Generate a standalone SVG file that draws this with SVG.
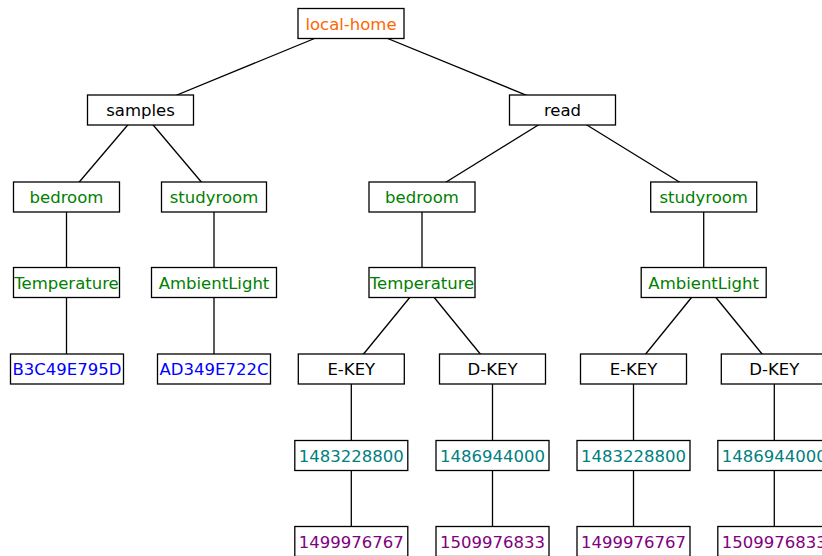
<svg xmlns="http://www.w3.org/2000/svg" width="822" height="556" viewBox="0 0 822 556">
  <style>
    .edge { stroke: #000; stroke-width: 1.3; fill: none; }
    .box { fill: #fff; stroke: #000; stroke-width: 1.3; }
    text { font-family: "DejaVu Sans", Verdana, sans-serif; font-size: 16.5px; text-anchor: middle; }
    .k { fill: #000; }
    .root { fill: #ff6600; }
    .g { fill: #008000; }
    .b { fill: #0000ff; }
    .t { fill: #008080; }
    .p { fill: #800080; }
  </style>
  <rect width="822" height="556" fill="#fff"/>

  <!-- connectors: center to center, boxes drawn on top -->
  <g id="edges">
    <line class="edge" x1="351" y1="23.5" x2="140.5" y2="110"/>
    <line class="edge" x1="351" y1="23.5" x2="562.5" y2="110"/>
    <line class="edge" x1="140.5" y1="110" x2="66.5" y2="197"/>
    <line class="edge" x1="140.5" y1="110" x2="214" y2="197"/>
    <line class="edge" x1="66.5" y1="197" x2="66.5" y2="369"/>
    <line class="edge" x1="214" y1="197" x2="214" y2="369"/>
    <line class="edge" x1="562.5" y1="110" x2="422" y2="197"/>
    <line class="edge" x1="562.5" y1="110" x2="703.7" y2="197"/>
    <line class="edge" x1="422" y1="197" x2="422" y2="282.5"/>
    <line class="edge" x1="703.7" y1="197" x2="703.7" y2="282.5"/>
    <line class="edge" x1="422" y1="282.5" x2="351.3" y2="369"/>
    <line class="edge" x1="422" y1="282.5" x2="492.5" y2="369"/>
    <line class="edge" x1="703.7" y1="282.5" x2="633.5" y2="369"/>
    <line class="edge" x1="703.7" y1="282.5" x2="774.3" y2="369"/>
    <line class="edge" x1="351.3" y1="369" x2="351.3" y2="556"/>
    <line class="edge" x1="492.5" y1="369" x2="492.5" y2="556"/>
    <line class="edge" x1="633.5" y1="369" x2="633.5" y2="556"/>
    <line class="edge" x1="774.3" y1="369" x2="774.3" y2="556"/>
  </g>

  <g id="local-home"><rect class="box" x="298" y="8.5" width="106" height="30"/><text class="root" x="351" y="29.5">local-home</text></g>

  <g id="samples"><rect class="box" x="87.5" y="95" width="106" height="30"/><text class="k" x="140.5" y="116">samples</text></g>
  <g id="read"><rect class="box" x="509.5" y="95" width="106" height="30"/><text class="k" x="562.5" y="116">read</text></g>

  <g id="samples-bedroom"><rect class="box" x="13.5" y="182" width="106" height="30"/><text class="g" x="66.5" y="203">bedroom</text></g>
  <g id="samples-studyroom"><rect class="box" x="161.5" y="182" width="105" height="30"/><text class="g" x="214" y="203">studyroom</text></g>
  <g id="samples-temperature"><rect class="box" x="13.5" y="267.5" width="106" height="30"/><text class="g" x="66.5" y="288.5">Temperature</text></g>
  <g id="samples-ambientlight"><rect class="box" x="151.5" y="267.5" width="125" height="30"/><text class="g" x="214" y="288.5">AmbientLight</text></g>
  <g id="samples-b3c49e795d"><rect class="box" x="10.5" y="354" width="113" height="30"/><text class="b" x="67" y="375">B3C49E795D</text></g>
  <g id="samples-ad349e722c"><rect class="box" x="157.5" y="354" width="113" height="30"/><text class="b" x="214" y="375">AD349E722C</text></g>

  <g id="read-bedroom"><rect class="box" x="369" y="182" width="106" height="30"/><text class="g" x="422" y="203">bedroom</text></g>
  <g id="read-studyroom"><rect class="box" x="650.7" y="182" width="106" height="30"/><text class="g" x="703.7" y="203">studyroom</text></g>
  <g id="read-temperature"><rect class="box" x="369" y="267.5" width="106" height="30"/><text class="g" x="422" y="288.5">Temperature</text></g>
  <g id="read-ambientlight"><rect class="box" x="641.2" y="267.5" width="125" height="30"/><text class="g" x="703.7" y="288.5">AmbientLight</text></g>

  <g id="temp-ekey"><rect class="box" x="298.3" y="354" width="106" height="30"/><text class="k" x="351.3" y="375">E-KEY</text></g>
  <g id="temp-dkey"><rect class="box" x="439.5" y="354" width="106" height="30"/><text class="k" x="492.5" y="375">D-KEY</text></g>
  <g id="light-ekey"><rect class="box" x="580.5" y="354" width="106" height="30"/><text class="k" x="633.5" y="375">E-KEY</text></g>
  <g id="light-dkey"><rect class="box" x="721.3" y="354" width="106" height="30"/><text class="k" x="774.3" y="375">D-KEY</text></g>

  <g id="temp-ekey-start"><rect class="box" x="294.8" y="440.5" width="113" height="30"/><text class="t" x="351.3" y="461.5">1483228800</text></g>
  <g id="temp-dkey-start"><rect class="box" x="436" y="440.5" width="113" height="30"/><text class="t" x="492.5" y="461.5">1486944000</text></g>
  <g id="light-ekey-start"><rect class="box" x="577" y="440.5" width="113" height="30"/><text class="t" x="633.5" y="461.5">1483228800</text></g>
  <g id="light-dkey-start"><rect class="box" x="717.8" y="440.5" width="113" height="30"/><text class="t" x="774.3" y="461.5">1486944000</text></g>

  <g id="temp-ekey-end"><rect class="box" x="294.8" y="526.5" width="113" height="30"/><text class="p" x="351.3" y="547.5">1499976767</text></g>
  <g id="temp-dkey-end"><rect class="box" x="436" y="526.5" width="113" height="30"/><text class="p" x="492.5" y="547.5">1509976833</text></g>
  <g id="light-ekey-end"><rect class="box" x="577" y="526.5" width="113" height="30"/><text class="p" x="633.5" y="547.5">1499976767</text></g>
  <g id="light-dkey-end"><rect class="box" x="717.8" y="526.5" width="113" height="30"/><text class="p" x="774.3" y="547.5">1509976833</text></g>
</svg>
